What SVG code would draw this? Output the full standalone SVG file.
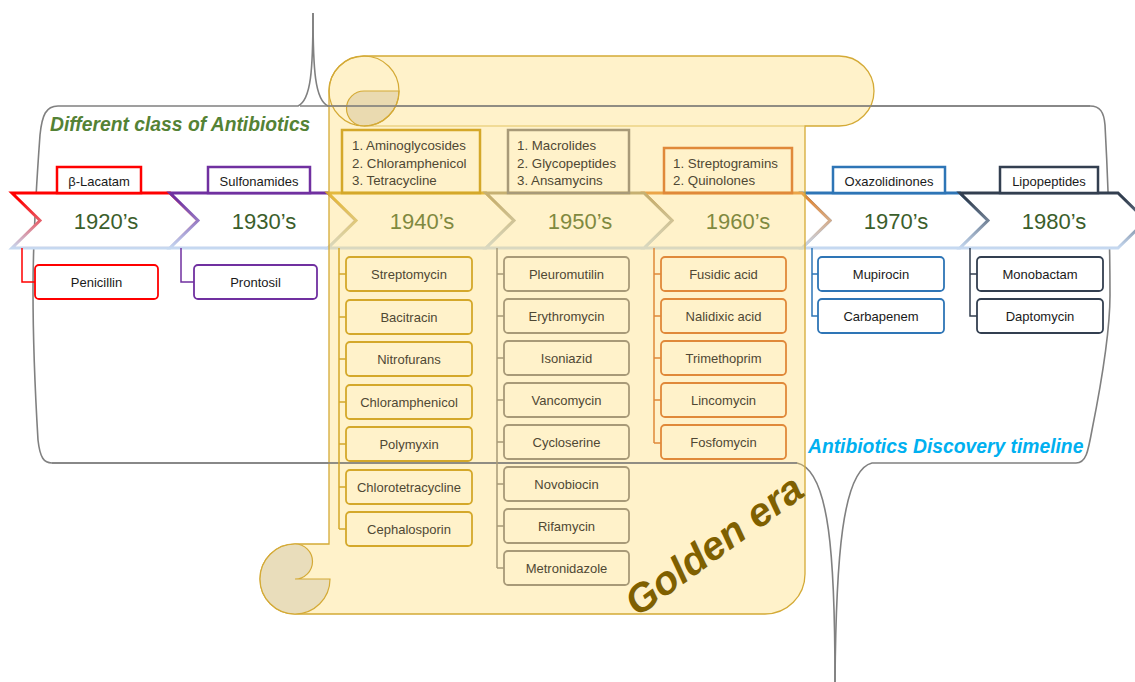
<svg xmlns="http://www.w3.org/2000/svg" width="1135" height="682" viewBox="0 0 1135 682">
<defs>
<linearGradient id="gRed" x1="0" y1="0" x2="0" y2="1"><stop offset="0" stop-color="#ff0000"/><stop offset="0.12" stop-color="#ff0000"/><stop offset="1" stop-color="#c6d9f1"/></linearGradient>
<linearGradient id="gPurple" x1="0" y1="0" x2="0" y2="1"><stop offset="0" stop-color="#7030a0"/><stop offset="0.12" stop-color="#7030a0"/><stop offset="1" stop-color="#c6d9f1"/></linearGradient>
<linearGradient id="gGold" x1="0" y1="0" x2="0" y2="1"><stop offset="0" stop-color="#d4a82a"/><stop offset="0.12" stop-color="#d4a82a"/><stop offset="1" stop-color="#c6d9f1"/></linearGradient>
<linearGradient id="gTan" x1="0" y1="0" x2="0" y2="1"><stop offset="0" stop-color="#a89a78"/><stop offset="0.12" stop-color="#a89a78"/><stop offset="1" stop-color="#c6d9f1"/></linearGradient>
<linearGradient id="gOrange" x1="0" y1="0" x2="0" y2="1"><stop offset="0" stop-color="#e0893a"/><stop offset="0.12" stop-color="#e0893a"/><stop offset="1" stop-color="#c6d9f1"/></linearGradient>
<linearGradient id="gBlue" x1="0" y1="0" x2="0" y2="1"><stop offset="0" stop-color="#2e75b6"/><stop offset="0.12" stop-color="#2e75b6"/><stop offset="1" stop-color="#c6d9f1"/></linearGradient>
<linearGradient id="gSlate" x1="0" y1="0" x2="0" y2="1"><stop offset="0" stop-color="#333f50"/><stop offset="0.12" stop-color="#333f50"/><stop offset="1" stop-color="#c6d9f1"/></linearGradient>
</defs>
<style>
.brace{fill:none;stroke:#808080;stroke-width:1.6}
.chev{fill:#ffffff;stroke-width:3;stroke-linejoin:miter}
.dec{font-family:"Liberation Sans",Arial,sans-serif;font-size:22px;fill:#3b5e2b;text-anchor:middle}
.lbl{font-family:"Liberation Sans",Arial,sans-serif;font-size:13px;fill:#1a1a1a;text-anchor:middle}
.lblS{font-family:"Liberation Sans",Arial,sans-serif;font-size:13px;fill:#4f4834;text-anchor:middle}
.lst{font-family:"Liberation Sans",Arial,sans-serif;font-size:13.3px;fill:#4f4834}
.cat{fill:#ffffff;stroke-width:2.5}
.catS{fill:none;stroke-width:2.5}
.item{fill:#ffffff;stroke-width:1.8}
.itemS{fill:none;stroke-width:1.8}
.conn{fill:none;stroke-width:1.5}
.title{font-family:"Liberation Sans",Arial,sans-serif;font-weight:bold;font-style:italic;font-size:19.3px}
.red{stroke:#ff0000}.purple{stroke:#7030a0}.gold{stroke:#d4a82a}.tan{stroke:#a89a78}.orange{stroke:#e0893a}.blue{stroke:#2e75b6}.slate{stroke:#333f50}
</style>

<g id="braces">
<path class="brace" d="M313,13 C313,70 311,100 298,106 L58,106 C46,106 42,115 40,135 C36,190 33,250 33,290"/>
<path class="brace" d="M313,13 C313,70 315,100 328,106 L1090,106 C1100,106 1104,112 1105,125 C1108,180 1110,240 1110,295"/>
<path class="brace" d="M835,682 C835,560 830,470 797,463 L52,463 C44,463 40,458 38,440 C35,390 33,330 33,290"/>
<path class="brace" d="M835,682 C836,560 842,470 872,463 L1076,463 C1086,463 1088,452 1092,430 C1102,380 1110,330 1110,295"/>
</g>

<g id="timeline">
<g id="era-1920"><polygon class="chev" stroke="url(#gRed)" points="12,193 170,193 198,220.5 170,248 12,248 40,220.5"/><text class="dec" x="106" y="229">1920’s</text></g>
<g id="era-1930"><polygon class="chev" stroke="url(#gPurple)" points="170,193 328,193 356,220.5 328,248 170,248 198,220.5"/><text class="dec" x="264" y="229">1930’s</text></g>
<g id="era-1940"><polygon class="chev" stroke="url(#gGold)" points="328,193 486,193 514,220.5 486,248 328,248 356,220.5"/><text class="dec" x="422" y="229">1940’s</text></g>
<g id="era-1970"><polygon class="chev" stroke="url(#gBlue)" points="802,193 960,193 988,220.5 960,248 802,248 830,220.5"/><text class="dec" x="896" y="229">1970’s</text></g>
<g id="era-1980"><polygon class="chev" stroke="url(#gSlate)" points="960,193 1118,193 1146,220.5 1118,248 960,248 988,220.5"/><text class="dec" x="1054" y="229">1980’s</text></g>
<g id="era-1960"><polygon class="chev" stroke="url(#gOrange)" points="644,193 802,193 830,220.5 802,248 644,248 672,220.5"/><text class="dec" x="738" y="229">1960’s</text></g>
<g id="era-1950"><polygon class="chev" stroke="url(#gTan)" points="486,193 644,193 672,220.5 644,248 486,248 514,220.5"/><text class="dec" x="580" y="229">1950’s</text></g>
</g>

<g id="scroll">
<path d="M329,91 A35,35 0 0 1 364,56 L839,56 A35,35 0 0 1 839,126 L805,126 L805,574 A40,40 0 0 1 765,614 L295,614 A35,35 0 0 1 295,544 L329,544 Z" fill="#ffd966" fill-opacity="0.35" stroke="#d4aa36" stroke-width="1.3"/>
<path d="M364,126 L805,126" stroke="#e3c462" stroke-width="1.2" fill="none"/>
<path d="M364,91 L399,91 A35,35 0 0 1 364,126 A17.5,17.5 0 0 1 364,91 Z" fill="#d8c79a" fill-opacity="0.55" stroke="#d4aa36" stroke-width="1.2"/>
<circle cx="364" cy="91" r="35" fill="none" stroke="#d4aa36" stroke-width="1.2"/>
<path d="M295,579 L330,579 A35,35 0 0 1 295,614 A35,35 0 0 1 260,579 A35,35 0 0 1 295,544 A17.5,17.5 0 0 1 295,579 Z" fill="#e9ddbb" stroke="#d4aa36" stroke-width="1.2"/>
</g>
<path class="brace" d="M300,106 L1090,106"/>
<path class="brace" d="M52,463 L797,463"/>

<g id="connectors">
<path class="conn red" stroke-width="2" d="M22,248 L22,282 L35,282"/>
<path class="conn purple" stroke-width="2" d="M181,248 L181,282 L194,282"/>
<path class="conn gold" d="M339,248 L339,529 M339,274 L346,274 M339,317 L346,317 M339,359 L346,359 M339,402 L346,402 M339,444 L346,444 M339,487 L346,487 M339,529 L346,529"/>
<path class="conn tan" d="M497,248 L497,568 M497,274 L504,274 M497,316 L504,316 M497,358 L504,358 M497,400 L504,400 M497,442 L504,442 M497,484 L504,484 M497,526 L504,526 M497,568 L504,568"/>
<path class="conn orange" d="M654,248 L654,443 M654,274 L661,274 M654,316 L661,316 M654,358 L661,358 M654,400 L661,400 M654,443 L661,443"/>
<path class="conn blue" d="M812,248 L812,316 L818,316 M812,274 L818,274"/>
<path class="conn slate" d="M970,248 L970,316 L977,316 M970,274 L977,274"/>
</g>

<g id="cat-betalactam"><rect class="cat red" x="57" y="167" width="84" height="26"/><text class="lbl" x="99" y="186">β-Lacatam</text></g>
<g id="cat-sulfonamides"><rect class="cat purple" x="208" y="167" width="102" height="26"/><text class="lbl" x="259" y="186">Sulfonamides</text></g>
<g id="cat-1940"><rect class="catS gold" x="342" y="130" width="138" height="63"/><text class="lst" x="352" y="150">1. Aminoglycosides</text><text class="lst" x="352" y="167.5">2. Chloramphenicol</text><text class="lst" x="352" y="185">3. Tetracycline</text></g>
<g id="cat-1950"><rect class="catS tan" x="508" y="130" width="121" height="63"/><text class="lst" x="517" y="150">1. Macrolides</text><text class="lst" x="517" y="167.5">2. Glycopeptides</text><text class="lst" x="517" y="185">3. Ansamycins</text></g>
<g id="cat-1960"><rect class="catS orange" x="664" y="148" width="128" height="45"/><text class="lst" x="673" y="167.5">1. Streptogramins</text><text class="lst" x="673" y="185">2. Quinolones</text></g>
<g id="cat-oxazolidinones"><rect class="cat blue" x="833" y="167" width="112" height="26"/><text class="lbl" x="889" y="186">Oxazolidinones</text></g>
<g id="cat-lipopeptides"><rect class="cat slate" x="1000" y="167" width="98" height="26"/><text class="lbl" x="1049" y="186">Lipopeptides</text></g>

<g id="penicillin"><rect class="item red" x="35" y="265" width="123" height="34" rx="4"/><text class="lbl" x="96.5" y="286.5">Penicillin</text></g>
<g id="prontosil"><rect class="item purple" x="194" y="265" width="123" height="34" rx="4"/><text class="lbl" x="255.5" y="286.5">Prontosil</text></g>

<g id="streptomycin"><rect class="itemS gold" x="346" y="257" width="126" height="34" rx="4"/><text class="lblS" x="409" y="278.5">Streptomycin</text></g>
<g id="bacitracin"><rect class="itemS gold" x="346" y="300" width="126" height="34" rx="4"/><text class="lblS" x="409" y="321.5">Bacitracin</text></g>
<g id="nitrofurans"><rect class="itemS gold" x="346" y="342" width="126" height="34" rx="4"/><text class="lblS" x="409" y="363.5">Nitrofurans</text></g>
<g id="chloramphenicol"><rect class="itemS gold" x="346" y="385" width="126" height="34" rx="4"/><text class="lblS" x="409" y="406.5">Chloramphenicol</text></g>
<g id="polymyxin"><rect class="itemS gold" x="346" y="427" width="126" height="34" rx="4"/><text class="lblS" x="409" y="448.5">Polymyxin</text></g>
<g id="chlorotetracycline"><rect class="itemS gold" x="346" y="470" width="126" height="34" rx="4"/><text class="lblS" x="409" y="491.5">Chlorotetracycline</text></g>
<g id="cephalosporin"><rect class="itemS gold" x="346" y="512" width="126" height="34" rx="4"/><text class="lblS" x="409" y="533.5">Cephalosporin</text></g>

<g id="pleuromutilin"><rect class="itemS tan" x="504" y="257" width="125" height="34" rx="4"/><text class="lblS" x="566.5" y="278.5">Pleuromutilin</text></g>
<g id="erythromycin"><rect class="itemS tan" x="504" y="299" width="125" height="34" rx="4"/><text class="lblS" x="566.5" y="320.5">Erythromycin</text></g>
<g id="isoniazid"><rect class="itemS tan" x="504" y="341" width="125" height="34" rx="4"/><text class="lblS" x="566.5" y="362.5">Isoniazid</text></g>
<g id="vancomycin"><rect class="itemS tan" x="504" y="383" width="125" height="34" rx="4"/><text class="lblS" x="566.5" y="404.5">Vancomycin</text></g>
<g id="cycloserine"><rect class="itemS tan" x="504" y="425" width="125" height="34" rx="4"/><text class="lblS" x="566.5" y="446.5">Cycloserine</text></g>
<g id="novobiocin"><rect class="itemS tan" x="504" y="467" width="125" height="34" rx="4"/><text class="lblS" x="566.5" y="488.5">Novobiocin</text></g>
<g id="rifamycin"><rect class="itemS tan" x="504" y="509" width="125" height="34" rx="4"/><text class="lblS" x="566.5" y="530.5">Rifamycin</text></g>
<g id="metronidazole"><rect class="itemS tan" x="504" y="551" width="125" height="34" rx="4"/><text class="lblS" x="566.5" y="572.5">Metronidazole</text></g>

<g id="fusidic-acid"><rect class="itemS orange" x="661" y="257" width="125" height="34" rx="4"/><text class="lblS" x="723.5" y="278.5">Fusidic acid</text></g>
<g id="nalidixic-acid"><rect class="itemS orange" x="661" y="299" width="125" height="34" rx="4"/><text class="lblS" x="723.5" y="320.5">Nalidixic acid</text></g>
<g id="trimethoprim"><rect class="itemS orange" x="661" y="341" width="125" height="34" rx="4"/><text class="lblS" x="723.5" y="362.5">Trimethoprim</text></g>
<g id="lincomycin"><rect class="itemS orange" x="661" y="383" width="125" height="34" rx="4"/><text class="lblS" x="723.5" y="404.5">Lincomycin</text></g>
<g id="fosfomycin"><rect class="itemS orange" x="661" y="425" width="125" height="34" rx="4"/><text class="lblS" x="723.5" y="446.5">Fosfomycin</text></g>

<g id="mupirocin"><rect class="item blue" x="818" y="257" width="126" height="34" rx="4"/><text class="lbl" x="881" y="278.5">Mupirocin</text></g>
<g id="carbapenem"><rect class="item blue" x="818" y="299" width="126" height="34" rx="4"/><text class="lbl" x="881" y="320.5">Carbapenem</text></g>
<g id="monobactam"><rect class="item slate" x="977" y="257" width="126" height="34" rx="4"/><text class="lbl" x="1040" y="278.5">Monobactam</text></g>
<g id="daptomycin"><rect class="item slate" x="977" y="299" width="126" height="34" rx="4"/><text class="lbl" x="1040" y="320.5">Daptomycin</text></g>

<text class="title" x="50" y="131" fill="#548235">Different class of Antibiotics</text>
<text class="title" x="808" y="453" fill="#00b0f0">Antibiotics Discovery timeline</text>
<text x="0" y="0" transform="translate(722,556) rotate(-36)" text-anchor="middle" font-family="'Liberation Sans',Arial,sans-serif" font-weight="bold" font-style="italic" font-size="40" fill="#7f6000">Golden era</text>
</svg>
